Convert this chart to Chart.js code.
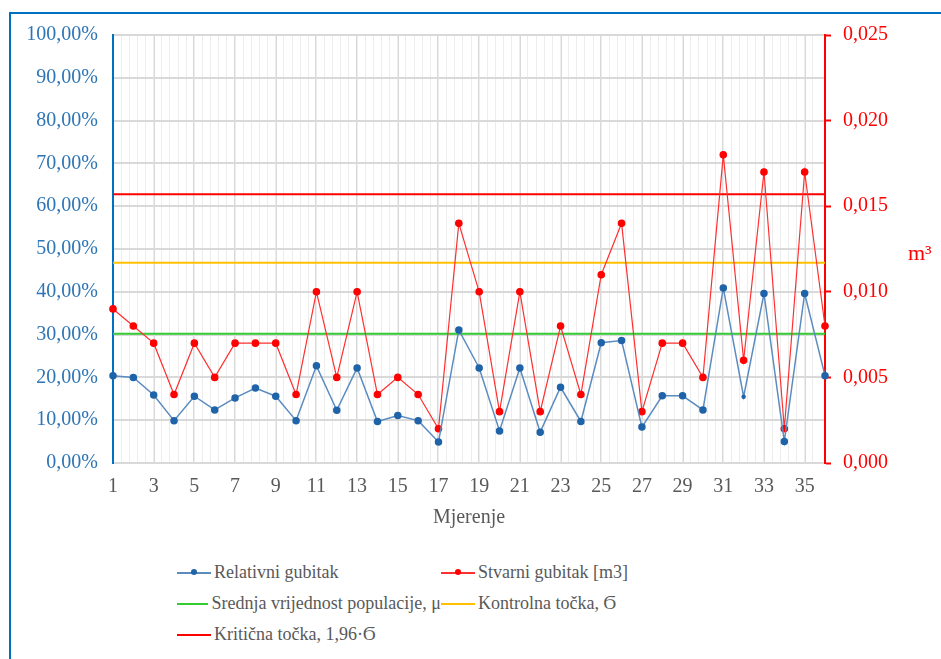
<!DOCTYPE html>
<html>
<head>
<meta charset="utf-8">
<script src="https://cdn.jsdelivr.net/npm/chart.js@4"></script>
<style>
  body { margin: 0; background: #fff; }
  #wrap { position: relative; width: 941px; height: 659px; overflow: hidden; background: #fff; }
  #frame { position: absolute; left: 9px; top: 12px; width: 1200px; height: 1200px;
           border-left: 2px solid #0070C0; border-top: 2px solid #0070C0; }
  #chartBox { position: absolute; left: 0; top: 0; width: 941px; height: 545px; }
  #legend { position: absolute; left: 177px; top: 557px; display: grid;
            grid-template-columns: 264px auto; grid-auto-rows: 31px;
            font-family: "Liberation Serif", serif; font-size: 18px; color: #595959; }
  .item { display: flex; align-items: center; white-space: nowrap; }
  .swatch { position: relative; width: 34px; height: 2px; margin-right: 3px; }
  .dot { position: absolute; left: 14px; top: -2.5px; width: 6px; height: 6px; border-radius: 50%; }
</style>
</head>
<body>
<div id="wrap">
  <div id="frame"></div>
  <div id="chartBox"><canvas id="chart" width="941" height="545"></canvas></div>
  <div id="legend"></div>
</div>
<script>
const mjerenja = Array.from({ length: 36 }, (_, i) => String(i + 1));

// Relativni gubitak (udio, lijeva os)
const relativniGubitak = [
  0.204, 0.200, 0.159, 0.099, 0.156, 0.124, 0.152, 0.175, 0.156, 0.099,
  0.227, 0.123, 0.222, 0.097, 0.111, 0.099, 0.049, 0.311, 0.222, 0.075,
  0.222, 0.072, 0.177, 0.097, 0.281, 0.286, 0.084, 0.157, 0.157, 0.124,
  0.409, 0.155, 0.396, 0.050, 0.396, 0.204
];

// Stvarni gubitak [m3] (desna os)
const stvarniGubitak = [
  0.009, 0.008, 0.007, 0.004, 0.007, 0.005, 0.007, 0.007, 0.007, 0.004,
  0.010, 0.005, 0.010, 0.004, 0.005, 0.004, 0.002, 0.014, 0.010, 0.003,
  0.010, 0.003, 0.008, 0.004, 0.011, 0.014, 0.003, 0.007, 0.007, 0.005,
  0.018, 0.006, 0.017, 0.002, 0.017, 0.008
];

// granice [m3]
const srednjaVrijednost = 0.00755;
const kontrolnaTocka = 0.0117;
const kriticnaTocka = 0.0157;

const postotakTicks = [0, 0.1, 0.2, 0.3, 0.4, 0.5, 0.6, 0.7, 0.8, 0.9, 1.0];
const m3Ticks = [0, 0.005, 0.010, 0.015, 0.020, 0.025];

const serif = "'Liberation Serif', serif";
const gridColor = "#D9D9D9";

const constLine = (v) => mjerenja.map(() => v);

// horizontal "m³" title next to the right axis
const m3Title = {
  id: "m3Title",
  afterDraw(chart) {
    const { ctx, chartArea, scales } = chart;
    ctx.save();
    ctx.font = "22px " + serif;
    ctx.fillStyle = "#FF0000";
    ctx.textAlign = "left";
    ctx.textBaseline = "middle";
    ctx.fillText("m³", scales.y1.right - 33, (chartArea.top + chartArea.bottom) / 2 + 5);
    ctx.restore();
  },
};

const chart = new Chart(document.getElementById("chart"), {
  type: "line",
  data: {
    labels: mjerenja,
    datasets: [
      {
        label: "Relativni gubitak",
        data: relativniGubitak,
        yAxisID: "y",
        borderColor: "#5B8CC0",
        backgroundColor: "#1F63A8",
        pointBackgroundColor: "#1F63A8",
        pointBorderColor: "#1F63A8",
        borderWidth: 1.5,
        pointRadius: (c) => (c.dataIndex === 31 ? 1.5 : 3),
        order: 0,
      },
      {
        label: "Stvarni gubitak [m3]",
        data: stvarniGubitak,
        yAxisID: "y1",
        borderColor: "#FF3030",
        backgroundColor: "#FF0000",
        pointBackgroundColor: "#FF0000",
        pointBorderColor: "#FF0000",
        borderWidth: 1.2,
        pointRadius: 3.2,
        order: 1,
      },
      {
        label: "Srednja vrijednost populacije, μ",
        data: constLine(srednjaVrijednost),
        yAxisID: "y1",
        borderColor: "#33CC33",
        backgroundColor: "#33CC33",
        borderWidth: 2,
        pointRadius: 0,
        order: 2,
      },
      {
        label: "Kontrolna točka, Ϭ",
        data: constLine(kontrolnaTocka),
        yAxisID: "y1",
        borderColor: "#FFC000",
        backgroundColor: "#FFC000",
        borderWidth: 2,
        pointRadius: 0,
        order: 2,
      },
      {
        label: "Kritična točka, 1,96·Ϭ",
        data: constLine(kriticnaTocka),
        yAxisID: "y1",
        borderColor: "#FF0000",
        backgroundColor: "#FF0000",
        borderWidth: 2,
        pointRadius: 0,
        order: 2,
      },
    ],
  },
  options: {
    responsive: false,
    animation: false,
    devicePixelRatio: 1,
    layout: { padding: { top: 35, left: 0, right: 0, bottom: 0 } },
    plugins: { legend: { display: false }, tooltip: { enabled: false } },
    scales: {
      x: {
        type: "category",
        grid: {
          color: (c) => (c.index % 2 === 0 ? gridColor : "rgba(0,0,0,0)"),
          lineWidth: 2,
          drawTicks: false,
        },
        border: { color: gridColor, width: 2 },
        ticks: {
          autoSkip: false,
          maxRotation: 0,
          padding: 12,
          color: "#595959",
          font: { family: serif, size: 20 },
          callback: (v, i) => (i % 2 === 0 ? mjerenja[i] : ""),
        },
        title: {
          display: true,
          text: "Mjerenje",
          color: "#595959",
          font: { family: serif, size: 20 },
          padding: { top: 0, bottom: 15 },
        },
        afterFit: (s) => { s.height = 82; },
      },
      xMinor: {
        type: "linear",
        position: "bottom",
        min: 0,
        max: mjerenja.length - 1,
        ticks: { display: false, stepSize: 0.4 },
        grid: { color: "#EDEDED", lineWidth: 1, drawTicks: false },
        border: { display: false },
        afterFit: (s) => { s.height = 0; },
      },
      y: {
        position: "left",
        min: 0,
        max: 1,
        afterBuildTicks: (s) => { s.ticks = postotakTicks.map((v) => ({ value: v })); },
        grid: { color: gridColor, lineWidth: 2, drawTicks: false },
        border: { color: "#0070C0", width: 2 },
        ticks: {
          padding: 15,
          color: "#2E75B6",
          font: { family: serif, size: 20 },
          callback: (v) => (v * 100).toFixed(2).replace(".", ",") + "%",
        },
        afterFit: (s) => { s.width = 113; },
      },
      y1: {
        position: "right",
        min: 0,
        max: 0.025,
        afterBuildTicks: (s) => { s.ticks = m3Ticks.map((v) => ({ value: v })); },
        grid: { drawOnChartArea: false, color: "#FF0000", tickColor: "#FF0000", tickLength: 6, tickWidth: 2 },
        border: { color: "#FF0000", width: 2 },
        ticks: {
          padding: 12,
          color: "#FF0000",
          font: { family: serif, size: 20 },
          callback: (v) => v.toFixed(3).replace(".", ","),
        },
        afterFit: (s) => { s.width = 116; },
      },
    },
  },
  plugins: [m3Title],
});

// legend in two columns under the chart
const legend = document.getElementById("legend");
chart.data.datasets.forEach((ds, i) => {
  const item = document.createElement("div");
  item.className = "item";
  const sw = document.createElement("span");
  sw.className = "swatch";
  sw.style.background = ds.borderColor;
  if (i < 2) {
    const dot = document.createElement("span");
    dot.className = "dot";
    dot.style.background = ds.pointBackgroundColor;
    sw.appendChild(dot);
  }
  const txt = document.createElement("span");
  txt.textContent = ds.label;
  item.appendChild(sw);
  item.appendChild(txt);
  legend.appendChild(item);
});
</script>
</body>
</html>
